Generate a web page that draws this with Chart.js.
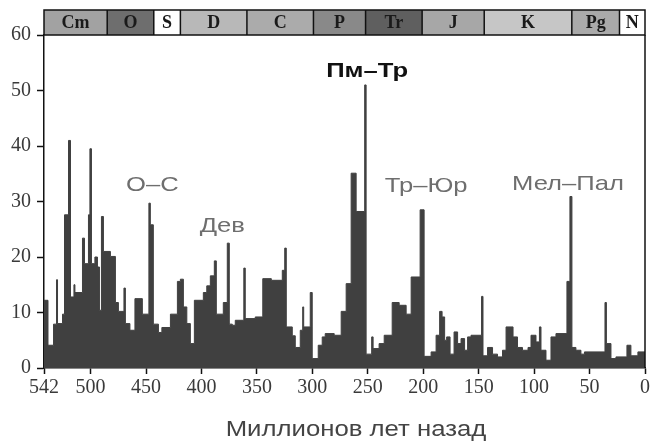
<!DOCTYPE html>
<html><head><meta charset="utf-8">
<script src="https://cdn.jsdelivr.net/npm/chart.js@4.4.1/dist/chart.umd.min.js"></script>
<style>html,body{margin:0;padding:0;background:#fff;}#c{display:block;}</style>
</head><body>
<canvas id="c" width="656" height="446"></canvas>
<script>
// Start age (Myr ago) of each interval and its extinction intensity (%)
const ageStarts = [542,538.4,533.4,530.7,529.8,525.3,523.5,519.9,518.1,515.0,514.1,507.3,505.5,501.9,500.6,499.2,496.1,493.8,492.0,490.2,
488.4,482.1,477.6,474.9,469.9,468.6,464.5,460.0,453.3,447.4,446.1,443.4,438.8,435.7,428.0,421.7,419.0,416.3,413.2,410.0,
406.4,398.3,395.2,392.0,388.4,386.6,380.3,376.7,374.9,372.2,369.5,361.8,360.5,351.5,344.7,337.0,327.1,324.9,323.5,318.1,
315.4,310.9,308.7,307.8,301.9,300.1,294.7,291.1,288.4,280.3,274.0,269.5,265.0,260.5,252.8,251.5,246.5,245.2,239.8,235.2,
228.0,221.7,215.4,210.9,202.8,199.2,192.9,188.4,185.2,183.0,180.7,178.9,175.8,172.2,169.0,165.9,162.7,160.0,156.9,147.4,
146.1,142.0,137.5,133.0,128.5,125.3,119.0,115.0,110.5,105.5,102.8,98.3,95.2,93.8,89.3,84.8,80.3,70.4,67.7,65.9,
62.3,57.8,54.6,36.1,34.8,30.7,26.2,16.3,12.7,6.4];
const intensity = [12.2,4.1,7.9,15.9,8.0,9.7,27.6,41,12.8,15,13.6,23.4,18.8,27.6,39.5,18.8,20,18.2,10.4,27.3,
21,20.1,11.8,10.2,14.4,8,6.8,12.5,9.7,29.7,25.8,7.9,6.4,7.3,9.7,15.6,16,11,8,4.4,
12.2,13.6,14.8,16.6,19.3,9.7,11.8,22.5,7.9,7.7,8.6,18,8.9,9.2,16.1,15.8,17.6,21.6,7.4,5.8,
3.7,6.8,11,7.4,13.6,1.7,4.1,5.6,6.2,5.9,10.2,15.2,35.1,28.2,51,2.5,5.6,3.5,4.4,5.9,
11.8,11.3,9.7,16.4,28.5,2.1,2.9,5.9,10.2,9.2,5,5.6,2.5,6.5,4.4,5.3,3.2,5.6,5.9,12.9,
2.2,3.7,2.5,2,3.2,7.4,5.6,3.7,3.2,3.7,5.9,4.7,7.4,3.2,1.4,5.6,6.2,15.6,30.9,3.7,
3.2,2.5,2.9,11.8,4.4,1.7,2,4.1,2.2,2.9];
const xTickLabels = [542,500,450,400,350,300,250,200,150,100,50,0];
const yTickLabels = [0,10,20,30,40,50,60];
const periodNames = ['Cm','O','S','D','C','P','Tr','J','K','Pg','N'];
const periodBounds = [542,485,443,419,359,299,252,201,145,66,23,0];
const periodColors = ['#a2a2a2','#6e6e6e','#ffffff','#b8b8b8','#ababab','#898989','#5f5f5f','#a7a7a7','#c6c6c6','#aaaaaa','#ffffff'];
const eventLabels = ['О–С','Дев','Пм–Тр','Тр–Юр','Мел–Пал'];
const eventAges = [444.3,381.2,250.6,197.4,69.5];
const eventLevels = [33.0,25.6,53.5,32.8,33.2];
const xTitle = 'Миллионов лет назад';

const points = ageStarts.map((t,i)=>({x:t,y:intensity[i]}));
points.push({x:0,y:intensity[intensity.length-1]});

function stretchText(ctx, text, cx, cy, sx){
  ctx.save(); ctx.translate(cx, cy); ctx.scale(sx, 1); ctx.fillText(text, 0, 0); ctx.restore();
}

const overlay = {
  id:'overlay',
  afterDraw(chart){
    const {ctx, chartArea:a, scales:{x,y}} = chart;
    ctx.save();
    // period bar
    const h = 25, top = a.top - h;
    for (let i=0;i<periodNames.length;i++){
      const x0 = x.getPixelForValue(periodBounds[i]), x1 = x.getPixelForValue(periodBounds[i+1]);
      ctx.fillStyle = periodColors[i];
      ctx.fillRect(x0, top, x1-x0, h);
    }
    ctx.strokeStyle = '#111'; ctx.lineWidth = 1.5;
    ctx.strokeRect(a.left, top, a.right-a.left, h);
    ctx.beginPath();
    for (let i=1;i<periodBounds.length-1;i++){
      const xb = x.getPixelForValue(periodBounds[i]);
      ctx.moveTo(xb, top); ctx.lineTo(xb, a.top);
    }
    ctx.stroke();
    ctx.fillStyle = '#1a1a1a';
    ctx.font = 'bold 18px "Liberation Serif"';
    ctx.textAlign = 'center'; ctx.textBaseline = 'middle';
    for (let i=0;i<periodNames.length;i++){
      const xm = (x.getPixelForValue(periodBounds[i]) + x.getPixelForValue(periodBounds[i+1]))/2;
      ctx.fillText(periodNames[i], xm, top + h/2 + 1);
    }
    // right frame
    ctx.beginPath(); ctx.moveTo(a.right, a.top); ctx.lineTo(a.right, a.bottom); ctx.stroke();
    // event labels
    for (let i=0;i<eventLabels.length;i++){
      const bold = i===2;
      ctx.font = (bold?'bold ':'') + '21px "Liberation Sans"';
      ctx.fillStyle = bold ? '#111' : '#6e6e6e';
      stretchText(ctx, eventLabels[i], x.getPixelForValue(eventAges[i]), y.getPixelForValue(eventLevels[i]), 1.22);
    }
    // x title
    ctx.font = '22px "Liberation Sans"';
    ctx.fillStyle = '#444';
    stretchText(ctx, xTitle, 356, 430, 1.17);
    ctx.restore();
  }
};

new Chart(document.getElementById('c'), {
  type:'line',
  data:{datasets:[{
    data: points,
    stepped: true,
    fill: 'origin',
    backgroundColor:'#404040',
    borderColor:'#404040',
    borderWidth:1,
    pointRadius:0,
    tension:0
  }]},
  options:{
    responsive:false,
    animation:false,
    devicePixelRatio:1,
    layout:{padding:{top:35,right:11,left:0,bottom:0}},
    plugins:{legend:{display:false},tooltip:{enabled:false}},
    scales:{
      x:{
        type:'linear', reverse:true, min:0, max:542,
        afterBuildTicks(s){ s.ticks = xTickLabels.map(v=>({value:v})); },
        afterFit(s){ s.height = 78; },
        ticks:{autoSkip:false, maxRotation:0, color:'#3a3a3a', padding:2,
          font:{family:'Liberation Serif', size:20}, callback:v=>String(v)},
        grid:{drawOnChartArea:false, drawTicks:true, tickLength:6, tickColor:'#111', tickWidth:1.5},
        border:{display:true, color:'#111', width:1.5}
      },
      y:{
        min:0, max:60,
        afterBuildTicks(s){ s.ticks = yTickLabels.map(v=>({value:v})); },
        afterFit(s){ s.width = 44; },
        ticks:{color:'#3a3a3a', padding:6, font:{family:'Liberation Serif', size:20}, callback:v=>String(v)},
        grid:{drawOnChartArea:false, drawTicks:true, tickLength:7, tickColor:'#111', tickWidth:1.5},
        border:{display:true, color:'#111', width:1.5}
      }
    }
  },
  plugins:[overlay]
});
</script>
</body></html>
